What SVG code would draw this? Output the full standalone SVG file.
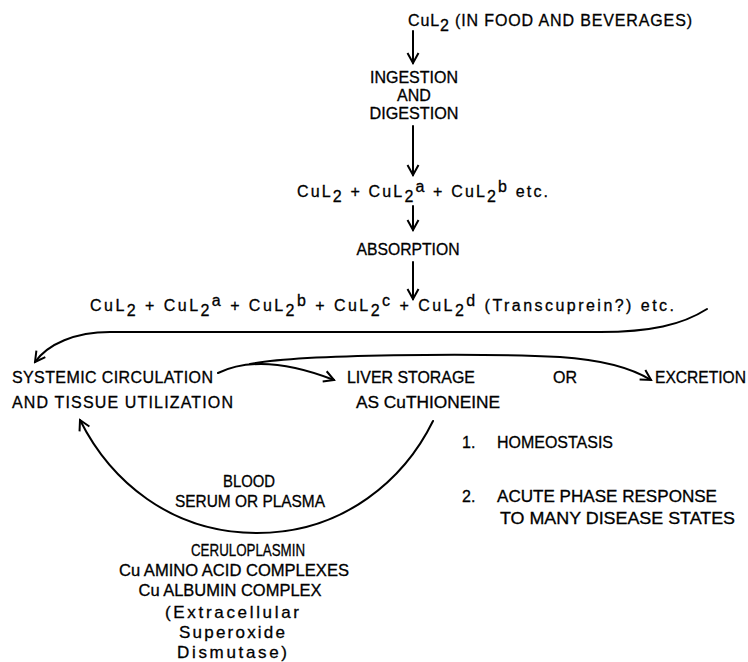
<svg xmlns="http://www.w3.org/2000/svg" width="748" height="662" viewBox="0 0 748 662">
<defs>
<style>
.t{font-family:"Liberation Sans",Arial,sans-serif;font-size:16px;fill:#000;stroke:#000;stroke-width:0.3}
.s{font-size:17px}
.m{text-anchor:middle}
.ln{fill:none;stroke:#000;stroke-width:2;stroke-linecap:round}
</style>
<marker id="ah" viewBox="0 0 14 14" refX="12" refY="7" markerWidth="14" markerHeight="14" markerUnits="userSpaceOnUse" orient="auto">
<path d="M2,1.5 L12,7 L2,12.5" fill="none" stroke="#000" stroke-width="2" stroke-linejoin="miter"/>
</marker>
</defs>
<rect width="748" height="662" fill="#fff"/>
<g id="connectors">
<path class="ln" d="M413,31 L413,63" marker-end="url(#ah)"/>
<path class="ln" d="M413,126 L413,175" marker-end="url(#ah)"/>
<path class="ln" d="M413,206 L413,230" marker-end="url(#ah)"/>
<path class="ln" d="M413,262 L413,299" marker-end="url(#ah)"/>
<path class="ln" d="M707,309 C682,325 650,332 600,332 L110,332 C75,332 48,344 35,362" marker-end="url(#ah)"/>
<path class="ln" d="M218,373 Q262,352 334,380" marker-end="url(#ah)"/>
<path class="ln" d="M250,364 C300,354 480,353 560,357 Q620,361 651,380" marker-end="url(#ah)"/>
<path class="ln" d="M433,421 C405,478 345,533 257,533 C170,533 110,480 80,420" marker-end="url(#ah)"/>
</g>
<g id="n-food"><text class="t" x="408" y="26" textLength="284">CuL<tspan dy="5">2</tspan><tspan dy="-5"> (IN FOOD AND BEVERAGES)</tspan></text></g>
<g id="n-ingestion">
<text class="t m" x="414" y="83" textLength="88" lengthAdjust="spacingAndGlyphs">INGESTION</text>
<text class="t m" x="414" y="101">AND</text>
<text class="t m" x="414" y="119" textLength="89" lengthAdjust="spacingAndGlyphs">DIGESTION</text>
</g>
<g id="n-mix1"><text class="t" x="297" y="197" textLength="251">CuL<tspan dy="5">2</tspan><tspan dy="-5"> + CuL</tspan><tspan dy="5">2</tspan><tspan dy="-10">a</tspan><tspan dy="5"> + CuL</tspan><tspan dy="5">2</tspan><tspan dy="-10">b</tspan><tspan dy="5"> etc.</tspan></text></g>
<g id="n-absorption"><text class="t m" x="408" y="255" textLength="103" lengthAdjust="spacingAndGlyphs">ABSORPTION</text></g>
<g id="n-mix2"><text class="t" x="90" y="311" textLength="584">CuL<tspan dy="5">2</tspan><tspan dy="-5"> + CuL</tspan><tspan dy="5">2</tspan><tspan dy="-10">a</tspan><tspan dy="5"> + CuL</tspan><tspan dy="5">2</tspan><tspan dy="-10">b</tspan><tspan dy="5"> + CuL</tspan><tspan dy="5">2</tspan><tspan dy="-10">c</tspan><tspan dy="5"> + CuL</tspan><tspan dy="5">2</tspan><tspan dy="-10">d</tspan><tspan dy="5"> (Transcuprein?) etc.</tspan></text></g>
<g id="n-systemic">
<text class="t" x="12" y="383" textLength="201">SYSTEMIC CIRCULATION</text>
<text class="t" x="12" y="408" textLength="221">AND TISSUE UTILIZATION</text>
</g>
<g id="n-liver">
<text class="t" x="347" y="383" textLength="128" lengthAdjust="spacingAndGlyphs">LIVER STORAGE</text>
<text class="t" x="356" y="408" textLength="144" lengthAdjust="spacingAndGlyphs">AS CuTHIONEINE</text>
</g>
<g id="n-or"><text class="t" x="553" y="383">OR</text></g>
<g id="n-excretion"><text class="t" x="655" y="383" textLength="91" lengthAdjust="spacingAndGlyphs">EXCRETION</text></g>
<g id="n-blood">
<text class="t m" x="249" y="487" textLength="52" lengthAdjust="spacingAndGlyphs">BLOOD</text>
<text class="t m" x="250" y="507" textLength="150" lengthAdjust="spacingAndGlyphs">SERUM OR PLASMA</text>
</g>
<g id="n-list">
<text class="t" x="462" y="448">1.</text>
<text class="t" x="497" y="448" textLength="116" lengthAdjust="spacingAndGlyphs">HOMEOSTASIS</text>
<text class="t" x="462" y="502">2.</text>
<text class="t" x="497" y="502" textLength="220" lengthAdjust="spacingAndGlyphs">ACUTE PHASE RESPONSE</text>
<text class="t" x="500" y="524" textLength="235" lengthAdjust="spacingAndGlyphs">TO MANY DISEASE STATES</text>
</g>
<g id="n-proteins">
<text class="t m" x="248" y="556" textLength="114" lengthAdjust="spacingAndGlyphs">CERULOPLASMIN</text>
<text class="t m" x="234" y="576" textLength="230" lengthAdjust="spacingAndGlyphs">Cu AMINO ACID COMPLEXES</text>
<text class="t m" x="230" y="596" textLength="183" lengthAdjust="spacingAndGlyphs">Cu ALBUMIN COMPLEX</text>
<text class="t s m" x="232" y="618" textLength="134">(Extracellular</text>
<text class="t s m" x="232" y="638" textLength="106">Superoxide</text>
<text class="t s m" x="232" y="658" textLength="110">Dismutase)</text>
</g>
</svg>
